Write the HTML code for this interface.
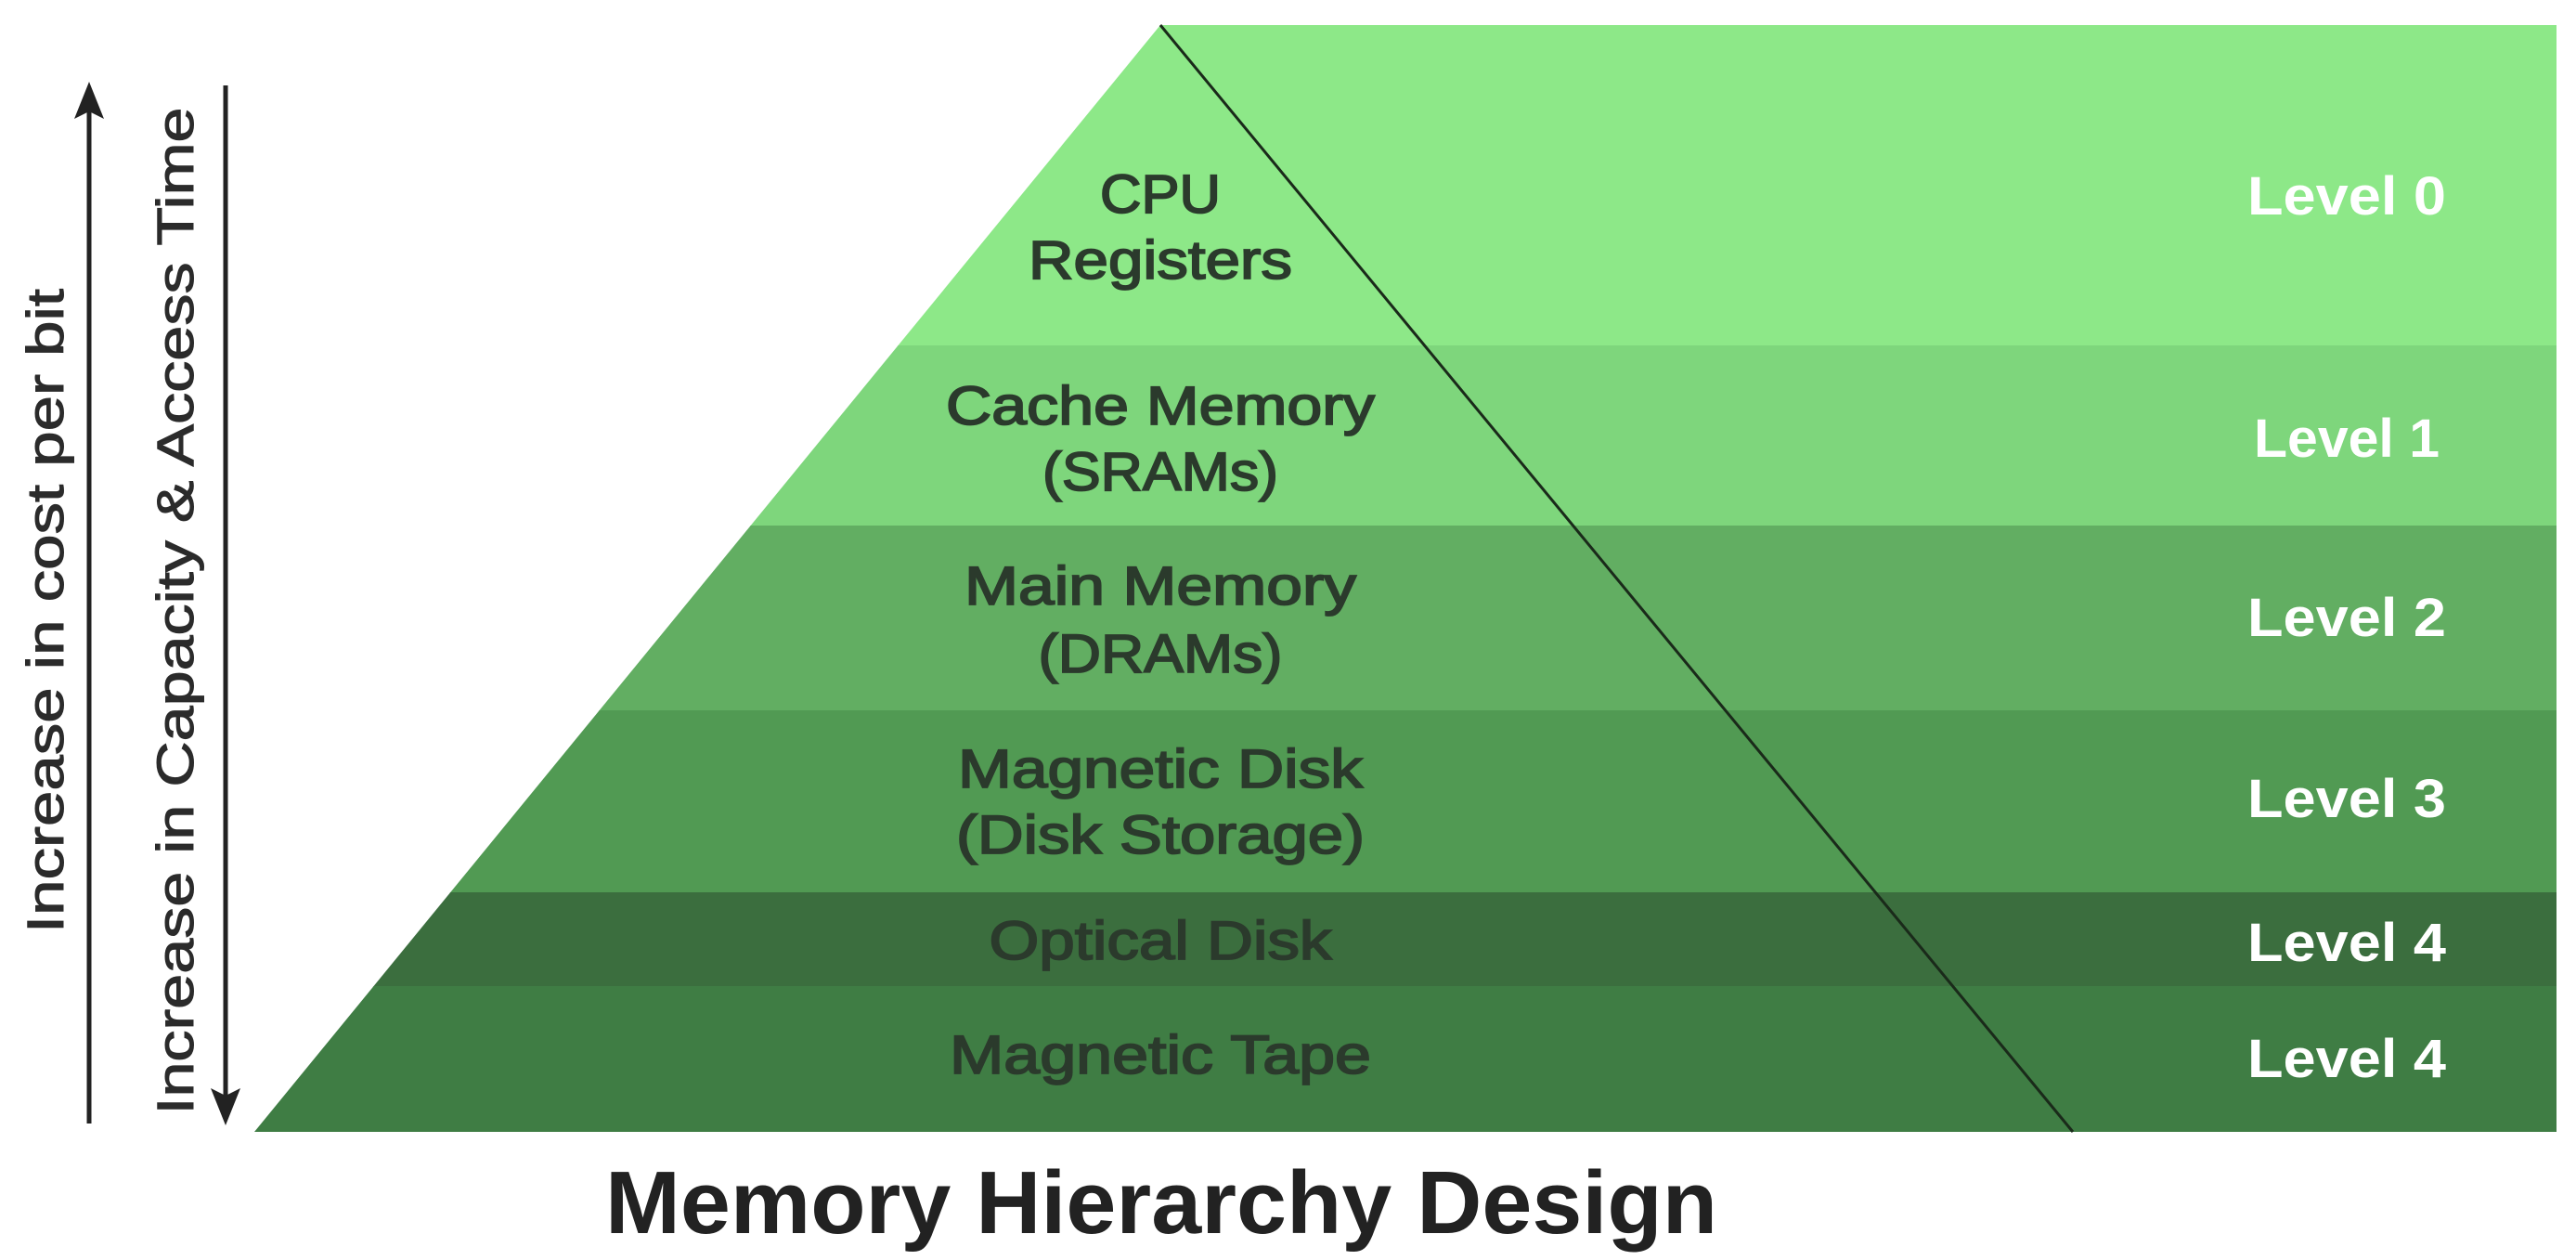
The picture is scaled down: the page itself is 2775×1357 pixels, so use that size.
<!DOCTYPE html>
<html><head><meta charset="utf-8"><style>
html,body{margin:0;padding:0;background:#fff}
svg{display:block}
text{font-family:"Liberation Sans",sans-serif}
</style></head><body>
<svg width="2775" height="1357" viewBox="0 0 2775 1357" xmlns="http://www.w3.org/2000/svg">
<defs>
<clipPath id="shape"><polygon points="1250,27 2754,27 2754,1219 274,1219"/></clipPath>
</defs>
<g clip-path="url(#shape)">
<rect x="0" y="27" width="2775" height="346" fill="#8de888"/>
<rect x="0" y="372" width="2775" height="195" fill="#7ed67c"/>
<rect x="0" y="566" width="2775" height="200" fill="#62ae62"/>
<rect x="0" y="765" width="2775" height="197" fill="#519a53"/>
<rect x="0" y="961" width="2775" height="102" fill="#3b6e3e"/>
<rect x="0" y="1062" width="2775" height="157" fill="#3f7d44"/>
</g>
<line x1="1250" y1="27" x2="2233" y2="1219" stroke="#1a2a1a" stroke-width="3"/>
<g fill="#2b3a2c" font-size="58" text-anchor="middle" stroke="#2b3a2c" stroke-width="1.8">
<text x="1250" y="229" textLength="130" lengthAdjust="spacingAndGlyphs">CPU</text>
<text x="1250" y="300" textLength="284" lengthAdjust="spacingAndGlyphs">Registers</text>
<text x="1250" y="457" textLength="462" lengthAdjust="spacingAndGlyphs">Cache Memory</text>
<text x="1250" y="528" textLength="254" lengthAdjust="spacingAndGlyphs">(SRAMs)</text>
<text x="1250" y="651" textLength="422" lengthAdjust="spacingAndGlyphs">Main Memory</text>
<text x="1250" y="724" textLength="263" lengthAdjust="spacingAndGlyphs">(DRAMs)</text>
<text x="1250" y="848" textLength="436" lengthAdjust="spacingAndGlyphs">Magnetic Disk</text>
<text x="1250" y="919" textLength="440" lengthAdjust="spacingAndGlyphs">(Disk Storage)</text>
<text x="1250" y="1033" textLength="369" lengthAdjust="spacingAndGlyphs">Optical Disk</text>
<text x="1250" y="1156" textLength="454" lengthAdjust="spacingAndGlyphs">Magnetic Tape</text>
</g>
<g fill="#ffffff" font-size="58" font-weight="bold" text-anchor="middle">
<text x="2528" y="231" textLength="214" lengthAdjust="spacingAndGlyphs">Level 0</text>
<text x="2528" y="492" textLength="200" lengthAdjust="spacingAndGlyphs">Level 1</text>
<text x="2528" y="685" textLength="214" lengthAdjust="spacingAndGlyphs">Level 2</text>
<text x="2528" y="880" textLength="214" lengthAdjust="spacingAndGlyphs">Level 3</text>
<text x="2528" y="1035" textLength="214" lengthAdjust="spacingAndGlyphs">Level 4</text>
<text x="2528" y="1160" textLength="214" lengthAdjust="spacingAndGlyphs">Level 4</text>
</g>
<line x1="96" y1="1210" x2="96" y2="115" stroke="#222" stroke-width="5"/>
<polygon points="96,88 80,128 96,120 112,128" fill="#222"/>
<line x1="243" y1="92" x2="243" y2="1185" stroke="#222" stroke-width="5"/>
<polygon points="243,1212 227,1172 243,1180 259,1172" fill="#222"/>
<g fill="#2b2b2b" font-size="56" text-anchor="middle" stroke="#2b2b2b" stroke-width="1">
<text transform="translate(68,658) rotate(-90)" textLength="694" lengthAdjust="spacingAndGlyphs">Increase in cost per bit</text>
<text transform="translate(208,658) rotate(-90)" textLength="1085" lengthAdjust="spacingAndGlyphs">Increase in Capacity &amp; Access Time</text>
</g>
<text x="1251" y="1328" font-size="96" font-weight="bold" fill="#222" text-anchor="middle" textLength="1198" lengthAdjust="spacingAndGlyphs">Memory Hierarchy Design</text>
</svg>
</body></html>
